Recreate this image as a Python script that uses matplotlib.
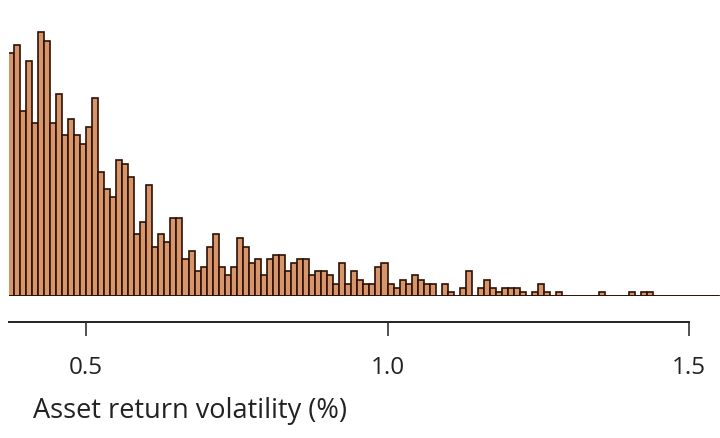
import matplotlib
matplotlib.use("Agg")
import matplotlib.pyplot as plt
import numpy as np

# Histogram of asset return volatility (%), bins of width 0.01 starting at 0.37
bin_start = 0.37
bin_width = 0.01
counts = [
    59, 61, 45, 57, 42, 64, 62, 42, 49, 39,
    43, 39, 37, 41, 48, 30, 26, 24, 33, 32,
    29, 15, 18, 27, 12, 15, 13, 19, 19, 9,
    11, 6, 7, 12, 15, 7, 5, 7, 14, 12,
    8, 9, 5, 9, 10, 10, 6, 8, 9, 9,
    5, 6, 6, 5, 3, 8, 3, 6, 4, 3,
    3, 7, 8, 3, 2, 4, 3, 5, 4, 3,
    3, 0, 3, 1, 0, 2, 6, 0, 2, 4,
    2, 1, 2, 2, 2, 1, 0, 1, 3, 1,
    0, 1, 0, 0, 0, 0, 0, 0, 1, 0,
    0, 0, 0, 1, 0, 1, 1, 0, 0, 0,
    0, 0, 0, 0, 0, 0, 0, 0,
]
tick_values = [0.5, 1.0, 1.5]
tick_labels = ["0.5", "1.0", "1.5"]
xlabel = "Asset return volatility (%)"

W, H = 720, 439
fig = plt.figure(figsize=(W / 100, H / 100), dpi=100)

left_px = 9
base_px = 297
ax = fig.add_axes([left_px / W, (H - base_px) / H, (W - left_px) / W, base_px / H])

edges = bin_start + bin_width * np.arange(len(counts))
ax.bar(edges, counts, width=bin_width, align="edge",
       color="#D6956A", edgecolor="#2E1005", linewidth=1.2)
ax.axhline(0, color="#2E1005", linewidth=1.2)

px_per_unit = 603.0
x_left = 0.5 - (86 - left_px) / px_per_unit
x_right = x_left + (W - left_px) / px_per_unit
ax.set_xlim(x_left, x_right)
ax.set_ylim(0, base_px / 4.12)

for s in ["top", "right", "left"]:
    ax.spines[s].set_visible(False)
ax.spines["bottom"].set_position(("outward", 26 * 0.72))
ax.spines["bottom"].set_bounds(x_left, 1.5)
ax.spines["bottom"].set_linewidth(1.4)
ax.spines["bottom"].set_color("#222222")
ax.set_yticks([])
ax.set_xticks(tick_values)
ax.set_xticklabels(tick_labels, fontfamily="Open Sans", fontsize=17.5, color="#222222")
ax.tick_params(axis="x", direction="out", length=10, width=1.1, color="#222222", pad=14)
ax.patch.set_alpha(0)

fig.text(33 / W, (H - 411) / H, xlabel, fontfamily="Open Sans", fontsize=19.5,
         color="#222222", ha="left", va="center")

fig.savefig("out.png", dpi=100)
